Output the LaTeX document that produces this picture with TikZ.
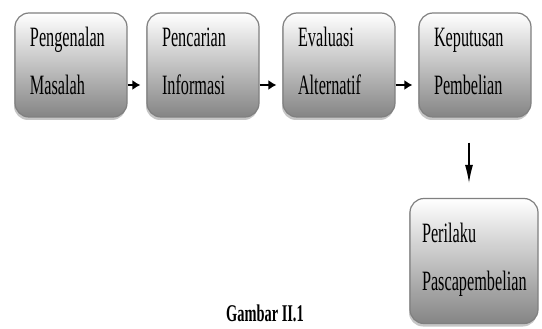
\documentclass[tikz,border=0pt]{standalone}
\usepackage{fontspec}
\setmainfont{Liberation Serif}
\usetikzlibrary{arrows.meta,shadows}

\newcommand{\duabaris}[2]{\scalebox{0.58}[1]{\begin{tabular}{@{}l@{}}#1\\[20pt]#2\end{tabular}}}

\tikzset{
    tahap/.style = {draw = black!50, line width = 1.2pt, rounded corners = 14pt,
        top color = white, bottom color = black!48, minimum height = 104pt,
        text width = 82pt, inner xsep = 15pt, align = left,
        font = \fontsize{28}{28}\selectfont,
        drop shadow = {shadow xshift = -1pt, shadow yshift = -3pt, opacity = .45}},
    panah/.style = {-{Latex[length = 8pt, width = 10pt]}, line width = 1.8pt},
    turun/.style = {-{Latex[length = 18pt, width = 8pt]}, line width = 1.1pt}
}

\begin{document}
\begin{tikzpicture}[x = 1pt, y = -1pt]
    \useasboundingbox (0, 0) rectangle (542, 329);

    \foreach \name/\x/\one/\two in {pm/71/Pengenalan/Masalah, pi/203/Pencarian/Informasi,
                                    ea/339/Evaluasi/Alternatif, kp/475/Keputusan/Pembelian} {
        \node[tahap] (\name) at (\x, 65) {\duabaris{\one}{\two}};
    }

    \node[tahap, text width = 104pt, inner xsep = 12pt, minimum height = 125pt]
        (pp) at (474, 261) {\duabaris{Perilaku}{Pascapembelian}};

    \foreach \a/\b in {pm/pi, pi/ea, ea/kp} {
        \draw[panah, shorten >= 6pt] ([yshift = -20pt]\a.east) -- ([yshift = -20pt]\a.east -| \b.west);
    }

    \draw[turun, shorten <= 25pt, shorten >= 15pt] ([xshift = -6pt]kp.south) -- ([xshift = -6pt]kp.south |- pp.north);

    % keterangan
    \node[anchor = north, inner sep = 1pt, font = \bfseries\fontsize{24}{24}\selectfont] (ket) at (265, 304)
        {\scalebox{0.6}[1]{Gambar II.1}};
\end{tikzpicture}
\end{document}
